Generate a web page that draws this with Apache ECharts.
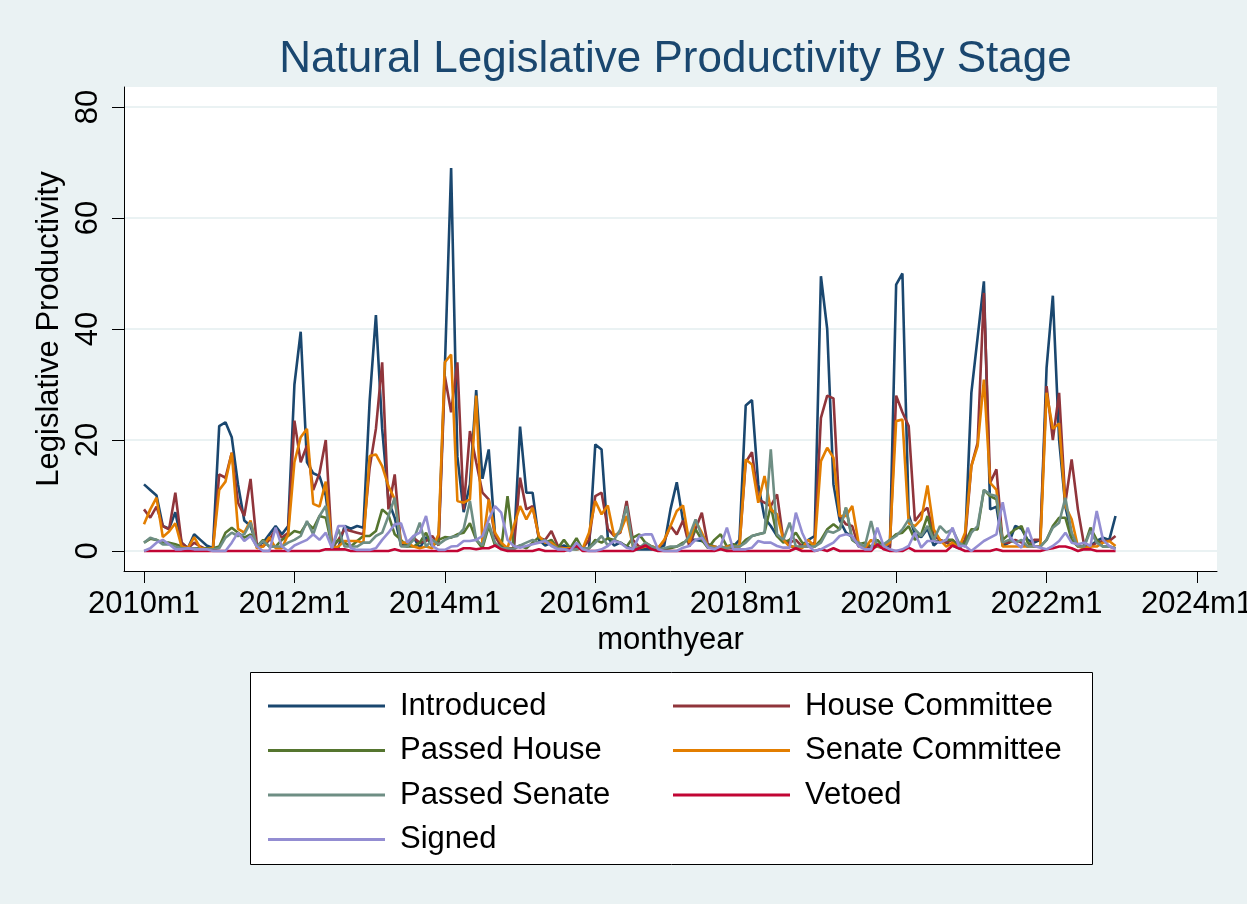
<!DOCTYPE html>
<html>
<head>
<meta charset="utf-8">
<title>Natural Legislative Productivity By Stage</title>
<script src="https://cdn.jsdelivr.net/npm/echarts@6/dist/echarts.min.js"></script>
<style>
  html, body { margin: 0; padding: 0; background: #eaf2f3; }
  #chart { width: 1247px; height: 904px; }
</style>
</head>
<body>
<div id="chart"></div>
<script>
// Monthly counts, 2010m1 .. 2022m12 (156 months each)
const startYear = 2010;

const introduced = [
  12, 11, 10, 4.5, 4, 7, 1.5, 0.5, 3, 2, 1, 0.5,
  22.5, 23.2, 20.5, 12, 5.5, 4.5, 1, 1.5, 3, 4.5, 3, 4.5,
  30, 39.5, 16, 14, 13.5, 10, 1, 0.5, 4.5, 4, 4.5, 4.2,
  27, 42.5, 22, 9, 6, 1, 1.5, 2.5, 0.5, 2.5, 1, 2,
  33, 69, 17, 7, 12, 29, 13, 18.3, 3, 1, 0.5, 0.5,
  22.4, 10.5, 10.5, 2, 1, 1.5, 0.5, 1, 0.5, 0.5, 0.5, 0.5,
  19.2, 18.3, 2.4, 1, 1.5, 0.8, 0.3, 0.3, 0.3, 0.3, 0.5, 1,
  7.5, 12.4, 5.4, 2, 2, 1.8, 1.2, 0.8, 0.5, 0.5, 0.8, 2,
  26.2, 27.2, 12, 6, 4.5, 2.7, 2, 1, 0.5, 1, 2, 2.7,
  49.5, 40, 12, 5.5, 3.3, 2.5, 1, 0.5, 0.8, 1.2, 0.8, 0.8,
  48, 50, 6.5, 3, 2.5, 4, 1, 2, 1.5, 1, 0.5, 1.5,
  28.5, 38.5, 48.6, 7.5, 8, 0.9, 1.5, 4.5, 4, 2, 1.5, 2,
  33, 46, 20, 8, 3, 1, 0.5, 1, 1.8, 2.4, 2, 6.3
];

const houseCommittee = [
  7.5, 6, 8, 4.5, 3.9, 10.5, 1.5, 0.5, 1.5, 0.8, 0.3, 0.3,
  13.8, 13.2, 17.7, 8.7, 6.3, 13, 1.2, 0.8, 2, 3.9, 2.4, 3.3,
  23.5, 16, 19, 11, 14, 20, 0.5, 2, 3.9, 3.6, 3.3, 3,
  15, 22, 34, 7.5, 13.8, 1, 0.8, 2.4, 1.5, 1.8, 2.7, 1,
  31.5, 25, 34, 7.5, 21.6, 16, 10.5, 9.3, 2.7, 0.8, 0.5, 0.5,
  13.2, 7.5, 8.1, 2.4, 2, 3.6, 1, 0.5, 0.5, 0.3, 0.5, 2,
  9.9, 10.5, 4, 2.7, 3.3, 9, 2, 0.8, 0.8, 0.8, 0.5, 1.8,
  4.5, 3, 5.5, 0.8, 4, 6.9, 0.8, 0.5, 0.8, 0.5, 0.5, 0.8,
  16, 17.8, 9.3, 8.7, 8.1, 10.2, 2, 1.5, 2, 0.8, 0.8, 1.5,
  24, 28, 27.5, 6.3, 4.8, 4.5, 0.8, 0.8, 0.5, 0.8, 0.5, 0.5,
  28, 25, 22.5, 5.4, 6.9, 7.8, 2.7, 2, 1.5, 2, 0.8, 2,
  15.3, 19.5, 46.5, 12.3, 14.7, 1.5, 1.5, 2, 1.5, 0.8, 2, 2,
  29.7, 20, 28.5, 8.7, 16.5, 7.5, 1, 0.8, 1.5, 1.8, 1.8, 2.7
];

const passedHouse = [
  1.5, 2.2, 2, 1.5, 1.5, 1.2, 0.8, 0.5, 0.5, 0.5, 0.5, 0.5,
  0.8, 3.3, 4.2, 3.3, 2.4, 3, 0.8, 2, 0.8, 0.8, 2, 2.7,
  3.6, 3.3, 5.1, 4, 6.3, 6, 0.8, 2, 1.5, 0.8, 1.8, 2.7,
  2.7, 3.6, 7.5, 6.5, 3, 2, 0.8, 0.8, 1.5, 3.3, 0.8, 2,
  2.5, 2.4, 3, 3.3, 5, 2, 0.5, 4.5, 1, 0.5, 9.9, 0.5,
  1, 0.5, 1.5, 2.5, 1.5, 2, 0.5, 2, 0.5, 2.3, 0.2, 0.5,
  2, 1.5, 2.3, 2, 1.5, 0.8, 2.4, 3, 1.5, 0.8, 0.3, 0.3,
  0.5, 0.8, 1.5, 2, 3.9, 2, 0.5, 2, 3, 0.8, 1.2, 0.8,
  2, 2.7, 3, 3.3, 8.1, 2.7, 1.5, 2, 3.3, 1.5, 1.2, 0.8,
  2, 3.9, 4.8, 3.9, 7.8, 2, 1.2, 1.5, 0.8, 2, 0.8, 2,
  3, 3.3, 4.5, 2, 3, 6.3, 2, 1.5, 2, 2, 0.8, 1.5,
  3.9, 3.9, 11, 9.9, 9.3, 2, 3, 3.9, 4.5, 1.5, 0.8, 0.8,
  2, 4.5, 6, 6, 2, 0.8, 0.8, 4.2, 2, 0.8, 0.8, 0.5
];

const senateCommittee = [
  4.8, 7.5, 9.6, 2.5, 3.5, 5, 0.8, 0.5, 2.5, 0.5, 0.3, 0.5,
  11, 12.5, 17.7, 4, 3.3, 5.5, 0.5, 0.8, 2.5, 0.5, 0.5, 3,
  16, 20.5, 22, 8.5, 8, 12.5, 0.5, 0.8, 1.8, 1.8, 1.8, 1.5,
  17.1, 17.4, 15.3, 11.7, 9.3, 1.5, 1.5, 0.8, 0.5, 0.8, 0.5, 3,
  34, 35.4, 9, 8.7, 9.3, 28, 1, 9.3, 3.3, 1.5, 0.5, 4.5,
  8.1, 5.7, 7.8, 2.7, 1.5, 1.5, 0.5, 0.5, 0.5, 0.3, 0.5, 3.3,
  9, 6.6, 8.2, 2.7, 3.5, 6.3, 0.8, 0.5, 0.8, 0.8, 0.5, 2,
  4.5, 7.2, 8.2, 1.5, 5.4, 3.3, 0.8, 0.8, 0.5, 0.8, 0.8, 0.8,
  16.5, 15.6, 8.7, 13.5, 7.5, 6.6, 2, 0.8, 0.8, 0.5, 2, 0.8,
  16.2, 18.6, 16.8, 6.3, 6.3, 8.1, 1.5, 0.5, 2, 0.8, 0.8, 1.5,
  23.4, 23.7, 5, 4.5, 5.7, 11.8, 3.9, 2, 0.8, 1.5, 0.5, 3.3,
  15.3, 18.9, 30.9, 12.3, 11, 0.8, 0.8, 0.8, 0.8, 0.8, 0.8, 0.8,
  28.5, 22, 23, 8.1, 5.7, 0.8, 0.5, 0.8, 0.8, 1.5, 1.8, 0.9
];

const passedSenate = [
  1.5, 2.4, 2, 1.2, 1.2, 0.8, 0.5, 0.5, 0.5, 0.3, 0.3, 0.3,
  0.5, 2.4, 3.3, 2.7, 3, 5.1, 0.8, 1.8, 0.8, 0.8, 0.8, 1.5,
  2, 2.7, 5.4, 3, 6.3, 8.1, 0.5, 3.9, 0.8, 0.8, 0.8, 1.5,
  1.5, 2.7, 3.3, 6.3, 9.6, 0.8, 0.8, 2, 5.1, 0.8, 2, 1.2,
  2, 2.5, 2.7, 4, 9, 2, 1, 5, 1.5, 0.5, 0.5, 0.3,
  1, 1.5, 2, 1.5, 2, 1, 0.5, 0.3, 0.3, 0.3, 0.5, 0.5,
  1.5, 2.7, 1, 2, 3.9, 8.1, 0.8, 0.5, 1.5, 0.8, 0.3, 0.5,
  0.8, 0.8, 1.2, 2.7, 5.7, 2.7, 0.8, 0.5, 0.8, 0.5, 0.8, 0.8,
  1.5, 2.7, 3, 3.3, 18.3, 3, 2, 5.1, 0.8, 0.8, 0.8, 0.8,
  1.5, 3.6, 3.3, 3.9, 7.8, 2, 1.5, 0.8, 5.4, 0.8, 1.2, 2,
  2.7, 3.9, 5.7, 3.9, 2.7, 4.5, 2, 4.5, 3.3, 3.9, 1.5, 0.8,
  3.3, 4.5, 11, 10.2, 9.9, 1.5, 2, 1.5, 2, 0.8, 0.8, 0.8,
  2, 4.2, 5.1, 9.6, 3.3, 0.8, 0.8, 3.6, 1.5, 0.8, 0.8, 0.5
];

const vetoed = [
  0, 0, 0, 0, 0, 0, 0, 0, 0, 0, 0, 0,
  0, 0, 0, 0, 0, 0, 0, 0, 0, 0, 0, 0,
  0, 0, 0, 0, 0, 0.3, 0.3, 0.3, 0.3, 0, 0, 0,
  0, 0, 0, 0, 0.3, 0, 0, 0, 0, 0, 0, 0,
  0, 0, 0, 0.5, 0.5, 0.3, 0.5, 0.5, 1, 0.3, 0, 0,
  0, 0, 0, 0.3, 0, 0, 0, 0, 0.3, 1, 0, 0,
  0, 0, 0, 0, 0, 0, 0, 0.5, 1, 0.3, 0, 0,
  0, 0, 0, 0, 0, 0, 0, 0, 0.3, 0, 0, 0,
  0, 0, 0, 0, 0, 0, 0, 0, 0.5, 0, 0, 0,
  0.3, 0, 0.5, 0, 0, 0, 0, 0, 0, 1.2, 0.3, 0,
  0, 0, 0.6, 0, 0, 0, 0, 0, 0, 1, 0.5, 0,
  0, 0, 0, 0, 0.3, 0, 0, 0, 0, 0, 0, 0,
  0.3, 0.5, 0.8, 0.8, 0.5, 0, 0.3, 0.3, 0, 0, 0, 0
];

const signed = [
  0, 0.5, 1.5, 2, 1.2, 0.3, 0.3, 0.5, 0.3, 0.3, 0.3, 0,
  0, 0, 1.5, 3.3, 1.8, 2.7, 0.8, 0, 0, 4.2, 0.8, 0,
  1, 1.5, 2, 3, 2, 3.3, 0.5, 4.5, 4.5, 0.5, 0.2, 0.2,
  0.2, 0.5, 2, 3.3, 4.8, 5, 1.5, 2.7, 3.3, 6.3, 0.9, 0.2,
  0.2, 0.8, 0.9, 1.8, 1.8, 2, 2.7, 5.7, 8.1, 6.9, 2, 0.9,
  0.6, 0.9, 1.2, 1.5, 1.8, 0.9, 0.3, 0.3, 0, 1.5, 0.3, 0,
  0, 0.3, 0.9, 1.8, 1.5, 0.6, 0.3, 2.7, 3, 3, 0.3, 0,
  0, 0, 0.6, 0.9, 2, 2.4, 0.6, 0.3, 0.9, 4.2, 0.3, 0.3,
  0.3, 0.6, 1.8, 1.5, 1.5, 0.9, 0.6, 0.6, 6.9, 3.3, 0.9, 0,
  0.3, 0.9, 1.5, 2.7, 3, 2.7, 0.9, 0.3, 0.3, 4.2, 0.9, 0.3,
  0, 0.3, 0.9, 3.3, 0.6, 1.8, 1.8, 1.5, 2, 4.2, 0.9, 0.9,
  0, 0.9, 1.8, 2.4, 3, 8.8, 2.7, 1.5, 0.6, 4.2, 0.9, 0.6,
  0.3, 0.9, 1.8, 3.3, 1.5, 1.2, 1.5, 0.9, 7.2, 2, 0.9, 0.3
];

// Axis ticks
const xTickLabels = ['2010m1', '2012m1', '2014m1', '2016m1', '2018m1', '2020m1', '2022m1', '2024m1'];
const yTickValues = [0, 20, 40, 60, 80];

const seriesNames = ['Introduced', 'House Committee', 'Passed House', 'Senate Committee',
                     'Passed Senate', 'Vetoed', 'Signed'];
const seriesValues = [introduced, houseCommittee, passedHouse, senateCommittee,
                      passedSenate, vetoed, signed];
const seriesColors = ['#1a476f', '#90353b', '#55752f', '#e37e00', '#6e8e84', '#c10534', '#938dd2'];

// x is months since 2010m1
const xTickValues = xTickLabels.map(s => (parseInt(s, 10) - startYear) * 12);
const labelFor = {};
xTickValues.forEach((v, i) => { labelFor[v] = xTickLabels[i]; });

const FONT = '"Liberation Sans", Arial, Helvetica, sans-serif';

const chart = echarts.init(document.getElementById('chart'), null, { renderer: 'canvas' });

const series = seriesNames.map((name, k) => ({
  name: name,
  type: 'line',
  data: seriesValues[k].map((v, i) => [i, v]),
  showSymbol: false,
  symbol: 'none',
  smooth: false,
  lineStyle: { color: seriesColors[k], width: 2.6 },
  itemStyle: { color: seriesColors[k] },
  emphasis: { disabled: true },
  animation: false
}));

const legendText = {
  fontFamily: FONT, fontSize: 31, color: '#000', lineHeight: 32,
  padding: [0, 0, 0, 10]
};

chart.setOption({
  backgroundColor: '#eaf2f3',
  animation: false,
  title: {
    text: 'Natural Legislative Productivity By Stage',
    left: 670.5,
    textAlign: 'center',
    top: 33,
    textStyle: { fontFamily: FONT, fontSize: 44, fontWeight: 'normal', color: '#1a476f' }
  },
  grid: {
    left: 124, right: 30, top: 87, bottom: 333,
    outerBoundsMode: 'none',
    containLabel: false,
    show: true, backgroundColor: '#ffffff', borderWidth: 0
  },
  xAxis: {
    type: 'value',
    min: -3.19, max: 171.19,
    name: 'monthyear',
    nameLocation: 'middle',
    nameGap: 51,
    nameTextStyle: { fontFamily: FONT, fontSize: 31, color: '#000' },
    axisLine: { show: true, onZero: false, lineStyle: { color: '#000', width: 1 } },
    axisTick: { show: true, length: 12, customValues: xTickValues, lineStyle: { color: '#000', width: 1 } },
    axisLabel: {
      customValues: xTickValues,
      formatter: v => labelFor[v] || '',
      fontFamily: FONT, fontSize: 31, color: '#000', margin: 18
    },
    splitLine: { show: false }
  },
  yAxis: {
    type: 'value',
    min: -3.604, max: 83.604,
    name: 'Legislative Productivity',
    nameLocation: 'middle',
    nameGap: 54,
    nameRotate: 90,
    nameTextStyle: { fontFamily: FONT, fontSize: 31, color: '#000' },
    axisLine: { show: true, onZero: false, lineStyle: { color: '#000', width: 1 } },
    axisTick: { show: true, length: 12, customValues: yTickValues, lineStyle: { color: '#000', width: 1 } },
    axisLabel: {
      customValues: yTickValues,
      rotate: 90,
      fontFamily: FONT, fontSize: 31, color: '#000', margin: 20
    },
    splitLine: { show: true, lineStyle: { color: '#eaf2f3', width: 2 } }
  },
  graphic: [{
    type: 'rect',
    left: 250, top: 672,
    shape: { width: 842, height: 192 },
    style: { fill: '#ffffff', stroke: '#000', lineWidth: 1 },
    z: -1, silent: true
  }],
  legend: [{
    orient: 'vertical',
    left: 263, top: 685,
    itemWidth: 117, itemHeight: 3, itemGap: 12.5,
    icon: 'rect',
    selectedMode: false,
    data: ['Introduced', 'Passed House', 'Passed Senate', 'Signed'],
    textStyle: legendText
  }, {
    orient: 'vertical',
    left: 668, top: 685,
    itemWidth: 117, itemHeight: 3, itemGap: 12.5,
    icon: 'rect',
    selectedMode: false,
    data: ['House Committee', 'Senate Committee', 'Vetoed'],
    textStyle: legendText
  }],
  series: series
});
</script>
</body>
</html>
